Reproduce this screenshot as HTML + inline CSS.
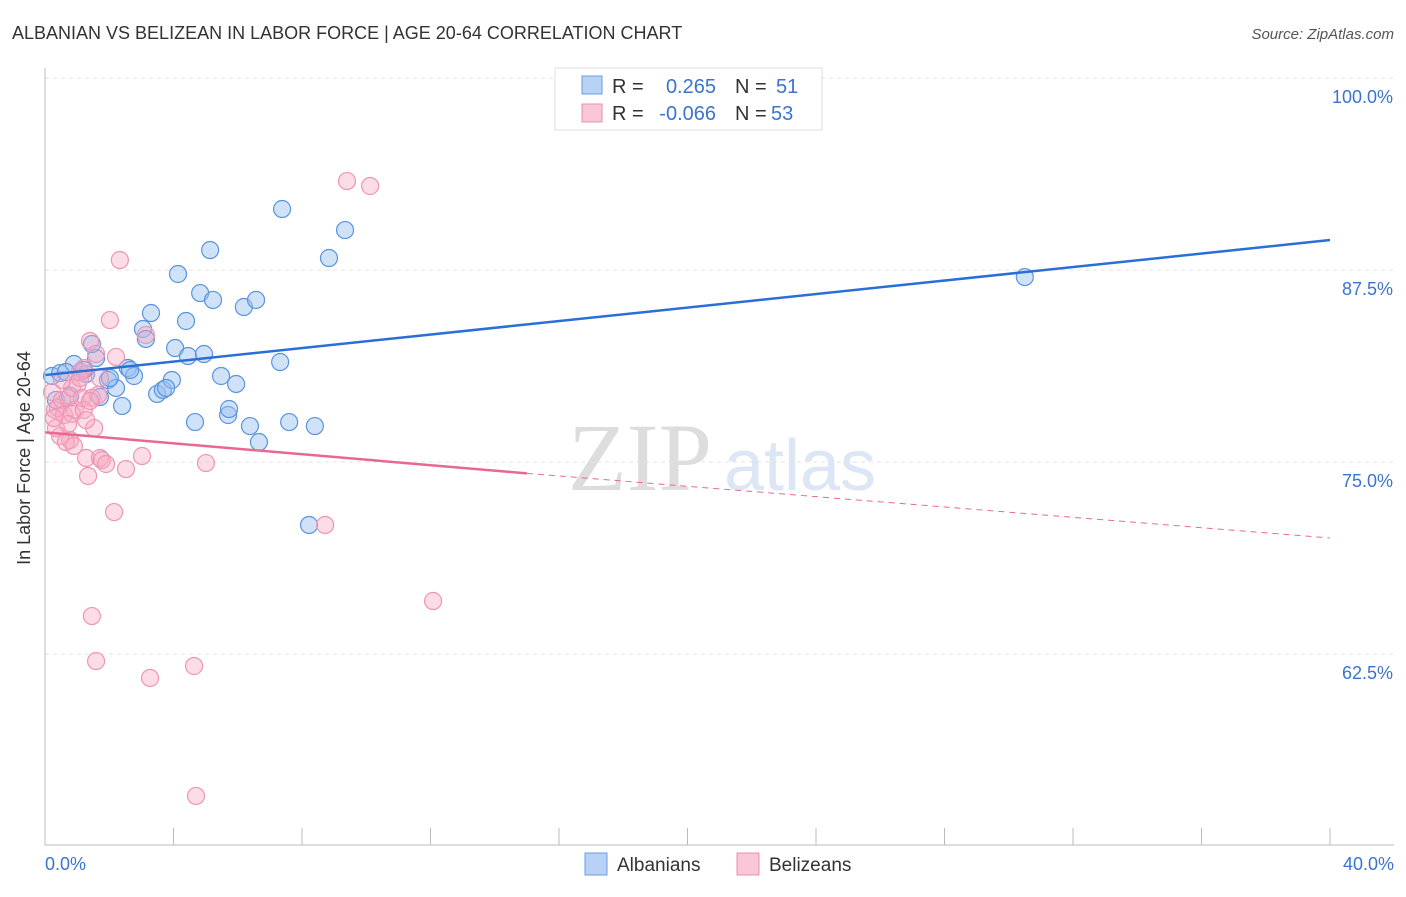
<!DOCTYPE html>
<html><head><meta charset="utf-8"><style>
body{margin:0;background:#fff;font-family:"Liberation Sans",sans-serif}
</style></head><body>
<svg id="c" width="1406" height="892" xmlns="http://www.w3.org/2000/svg" style="font-family:'Liberation Sans',sans-serif">
<text x="12" y="39" font-size="18" fill="#333">ALBANIAN VS BELIZEAN IN LABOR FORCE | AGE 20-64 CORRELATION CHART</text>
<text x="1394" y="39" font-size="15" fill="#555" text-anchor="end" font-style="italic">Source: ZipAtlas.com</text>
<text x="640" y="490" font-size="96" fill="#ddd" text-anchor="middle" font-family="Liberation Serif">ZIP</text>
<text x="800" y="490" font-size="72" fill="#dce6f5" text-anchor="middle">atlas</text>
<g id="grid"></g><g id="pts"></g><g id="lines"></g>
<line x1="45" y1="68" x2="45" y2="845" stroke="#bbb"/>
<line x1="45" y1="845" x2="1394" y2="845" stroke="#bbb"/>
<text x="30" y="458" font-size="18" fill="#333" text-anchor="middle" transform="rotate(-90 30 458)">In Labor Force | Age 20-64</text>
<text x="45" y="870" font-size="18" fill="#3a74d0">0.0%</text>
<text x="1394" y="870" font-size="18" fill="#3a74d0" text-anchor="end">40.0%</text>
<g font-size="20">
<rect x="555" y="68" width="267" height="62" fill="#fff" stroke="#ddd"/>
<rect x="582" y="76" width="20" height="18" fill="#b8d2f5" stroke="#6a9be0"/>
<rect x="582" y="104" width="20" height="18" fill="#f9c6d6" stroke="#ec8fb0"/>
<text x="612" y="93" fill="#333">R =</text>
<text x="716" y="93" fill="#3a74d0" text-anchor="end">0.265</text>
<text x="735" y="93" fill="#333">N =</text>
<text x="776" y="93" fill="#3a74d0">51</text>
<text x="612" y="120" fill="#333">R =</text>
<text x="716" y="120" fill="#3a74d0" text-anchor="end">-0.066</text>
<text x="735" y="120" fill="#333">N =</text>
<text x="771" y="120" fill="#3a74d0">53</text>
</g>
<g>
<rect x="585" y="853" width="22" height="22" fill="#b8d2f5" stroke="#6a9be0"/>
<text x="617" y="871" font-size="19" fill="#333">Albanians</text>
<rect x="737" y="853" width="22" height="22" fill="#f9c6d6" stroke="#ec8fb0"/>
<text x="769" y="871" font-size="19" fill="#333">Belizeans</text>
</g>
</svg>
<script>
const yTicks=[100,87.5,75,62.5];
const yTickLabels=["100.0%","87.5%","75.0%","62.5%"];
const xTicks=[0,4,8,12,16,20,24,28,32,36,40];
const blueX=[0.22,0.47,0.9,1.09,1.28,1.59,1.46,1.96,2.21,2.4,1.71,2.58,2.77,3.05,3.14,3.3,3.49,3.67,3.95,4.05,4.14,4.39,4.45,4.67,4.83,4.95,5.14,5.23,5.48,5.7,5.73,5.95,6.19,6.38,6.57,6.66,7.32,7.38,7.6,8.22,8.4,8.84,9.34,30.5,0.65,0.34,1.21,2.02,0.78,2.65,3.77];
const blueY=[80.6,80.79,81.38,80.86,80.73,81.77,82.68,80.34,79.82,78.65,79.23,81.12,80.6,83.66,83.01,84.7,79.43,79.69,80.34,82.42,87.24,84.18,81.9,77.6,86.0,82.03,88.8,85.55,80.6,78.06,78.45,80.08,85.09,77.34,85.55,76.3,81.51,91.47,77.6,70.9,77.34,88.28,90.1,87.04,80.86,79.04,80.99,80.47,79.3,80.99,79.82];
const pinkX=[0.22,0.31,0.4,0.53,0.59,0.72,0.78,0.84,0.93,1.02,1.09,1.15,1.21,1.28,1.34,1.4,1.46,1.53,1.59,1.65,1.71,1.77,1.9,2.02,2.15,2.21,2.33,2.52,3.02,3.14,3.27,1.46,1.59,4.64,4.7,5.01,8.72,9.4,10.12,12.08,0.47,0.65,0.84,1.21,0.34,0.9,0.53,1.28,1.4,0.72,1.09,0.28,1.71];
const pinkY=[79.56,78.39,78.52,79.04,78.06,79.17,76.43,79.82,78.39,80.08,80.86,79.17,81.12,75.26,74.09,82.88,79.17,77.21,82.03,79.36,75.26,75.13,74.87,84.24,71.74,81.84,88.15,74.54,75.39,83.27,60.94,64.97,62.04,61.72,53.26,74.93,70.9,93.29,92.97,65.95,76.69,76.3,78.13,78.39,77.21,76.04,80.34,77.73,78.97,77.47,80.47,77.86,80.47];
const blueLine=[[0,80.66],[40,89.45]];
const pinkLine=[[0,76.93],[15,74.26],[40,70.05]];
const X=v=>45+v/40*1285, Y=v=>78+(100-v)/12.5*192;
const NS="http://www.w3.org/2000/svg";
function mk(t,a,p){const e=document.createElementNS(NS,t);for(const k in a)e.setAttribute(k,a[k]);p.appendChild(e);return e;}
const g=document.getElementById('grid');
yTicks.forEach((t,i)=>{const l=mk('line',{x1:45,x2:1394,y1:Y(t),y2:Y(t),stroke:'#e2e2e2','stroke-dasharray':'4 4'},g);


const tx=mk('text',{x:1393,y:Y(t)+25,'font-size':18,fill:'#3a74d0','text-anchor':'end'},g);tx.textContent=yTickLabels[i];

});
xTicks.forEach(t=>{const l=mk('line',{x1:X(t),x2:X(t),y1:828,y2:845,stroke:'#bbb'},g);

});
const p=document.getElementById('pts');
blueX.forEach((x,i)=>{const c=mk('circle',{cx:X(x),cy:Y(blueY[i]),r:8.5,fill:'rgba(150,190,240,0.45)',stroke:'#5b93dd','stroke-width':1.2},p);

});
pinkX.forEach((x,i)=>{const c=mk('circle',{cx:X(x),cy:Y(pinkY[i]),r:8.5,fill:'rgba(248,170,195,0.4)',stroke:'#ee95b3','stroke-width':1.2},p);

});
const L=document.getElementById('lines');
let b=mk('line',{x1:X(blueLine[0][0]),y1:Y(blueLine[0][1]),x2:X(blueLine[1][0]),y2:Y(blueLine[1][1]),stroke:'#2a6fd6','stroke-width':2.5},L);


let s=mk('line',{x1:X(pinkLine[0][0]),y1:Y(pinkLine[0][1]),x2:X(pinkLine[1][0]),y2:Y(pinkLine[1][1]),stroke:'#e86892','stroke-width':2.5},L);


let d=mk('line',{x1:X(pinkLine[1][0]),y1:Y(pinkLine[1][1]),x2:X(pinkLine[2][0]),y2:Y(pinkLine[2][1]),stroke:'#e86892','stroke-width':1,'stroke-dasharray':'6 5'},L);


</script>
</body></html>
